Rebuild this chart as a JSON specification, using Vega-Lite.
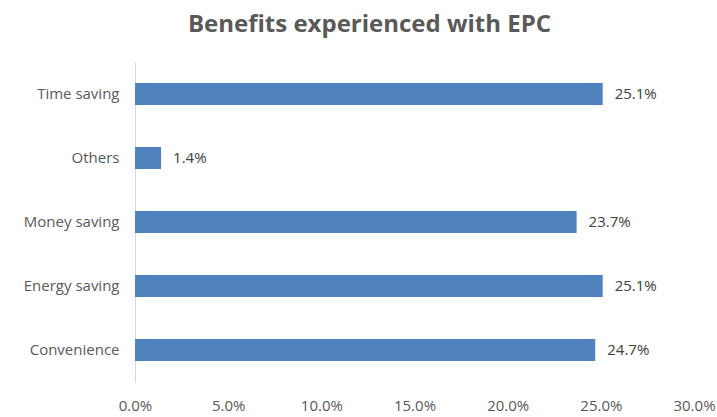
{
  "$schema": "https://vega.github.io/schema/vega-lite/v6.json",
  "width": 559,
  "height": 320,
  "autosize": {"type": "none"},
  "padding": {"left": 135, "top": 62, "right": 23, "bottom": 35},
  "background": "white",
  "title": {
    "text": "Benefits experienced with EPC",
    "font": "Open Sans",
    "fontSize": 24,
    "fontWeight": "bold",
    "color": "#595959",
    "anchor": "middle",
    "dx": -45,
    "offset": 25
  },
  "data": {
    "values": [
      {"benefit": "Time saving", "value": 0.251},
      {"benefit": "Others", "value": 0.014},
      {"benefit": "Money saving", "value": 0.237},
      {"benefit": "Energy saving", "value": 0.251},
      {"benefit": "Convenience", "value": 0.247}
    ]
  },
  "config": {"view": {"stroke": null}},
  "encoding": {
    "y": {
      "field": "benefit",
      "type": "nominal",
      "sort": ["Time saving", "Others", "Money saving", "Energy saving", "Convenience"],
      "scale": {"paddingInner": 0.656, "paddingOuter": 0.328},
      "axis": {
        "title": null,
        "ticks": false,
        "domainColor": "#d9d9d9",
        "labelFont": "Open Sans",
        "labelFontSize": 15,
        "labelColor": "#595959",
        "labelPadding": 16,
        "grid": false
      }
    },
    "x": {
      "field": "value",
      "type": "quantitative",
      "scale": {"domain": [0, 0.3], "nice": false},
      "axis": {
        "title": null,
        "format": ".1%",
        "values": [0, 0.05, 0.1, 0.15, 0.2, 0.25, 0.3],
        "domain": false,
        "ticks": false,
        "grid": false,
        "labelFont": "Open Sans",
        "labelFontSize": 15,
        "labelColor": "#595959",
        "labelPadding": 16,
        "labelFlush": false
      }
    }
  },
  "layer": [
    {"mark": {"type": "bar", "color": "#4f81bd"}},
    {
      "mark": {"type": "text", "align": "left", "dx": 12, "font": "Open Sans", "fontSize": 15, "color": "#404040"},
      "encoding": {"text": {"field": "value", "type": "quantitative", "format": ".1%"}}
    }
  ]
}
